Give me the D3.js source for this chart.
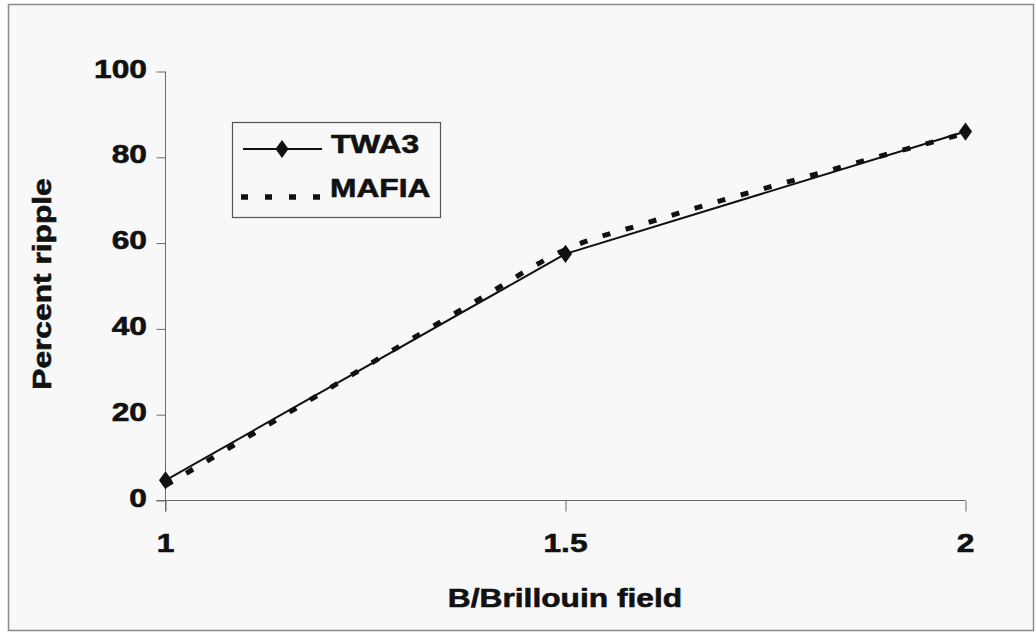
<!DOCTYPE html>
<html>
<head>
<meta charset="utf-8">
<script src="https://cdn.jsdelivr.net/npm/d3@7"></script>
<style>
  html, body { margin: 0; padding: 0; background: #ffffff; }
  svg { display: block; }
  text { font-family: "Liberation Sans", Arial, sans-serif; font-weight: bold; fill: #111; stroke: #111; stroke-width: 0.6; }
</style>
</head>
<body>
<svg id="chart" width="1036" height="633"></svg>
<script>
// ---- data ----
const twaX = [1, 1.5, 2];
const twaY = [4.7, 57.5, 86.0];
const mafiaX = [1.0, 1.1, 1.2, 1.3, 1.4, 1.5, 1.6, 1.7, 1.8, 1.9, 2.0];
const mafiaY = [3.5, 14.5, 25.6, 36.8, 47.8, 58.5, 64.6, 70.2, 75.4, 80.6, 85.6];
const xTicks = [1, 1.5, 2];
const xTickLabels = ["1", "1.5", "2"];
const yTicks = [0, 20, 40, 60, 80, 100];
const seriesNames = ["TWA3", "MAFIA"];
const xTitle = "B/Brillouin field";
const yTitle = "Percent ripple";

// ---- layout ----
const svg = d3.select("#chart");
const SX = 1.22; // horizontal glyph stretch of the original
const FS = 26;

svg.append("rect").attr("x", 8.5).attr("y", 4.5).attr("width", 1025).attr("height", 626)
  .attr("fill", "#f8f8f8").attr("stroke", "#8a8a8a").attr("stroke-width", 1.5);

const x = d3.scaleLinear().domain([1, 2]).range([165.5, 965.5]);
const y = d3.scaleLinear().domain([0, 100]).range([500.5, 71.5]);

const axisColor = "#6a6a6a";

// x axis
const gx = svg.append("g").attr("transform", `translate(0,${y(0)})`)
  .call(d3.axisBottom(x).tickValues(xTicks).tickSize(11).tickSizeOuter(0).tickFormat(""));
gx.select(".domain").attr("stroke", axisColor).attr("d", `M${x(1) - 9},0H${x(2)}`);
gx.selectAll(".tick line").attr("stroke", axisColor);

// y axis
const gy = svg.append("g").attr("transform", `translate(${x(1)},0)`)
  .call(d3.axisLeft(y).tickValues(yTicks).tickSize(9).tickSizeOuter(0).tickFormat(""));
gy.select(".domain").attr("stroke", axisColor).attr("d", `M0,${y(100)}V${y(0) + 11}`);
gy.selectAll(".tick line").attr("stroke", axisColor);

function stretchedText(g, tx, ty, str, anchor, rot) {
  return g.append("text")
    .attr("transform", `translate(${tx},${ty})${rot ? " rotate(" + rot + ")" : ""} scale(${SX},1)`)
    .attr("text-anchor", anchor)
    .attr("font-size", FS)
    .text(str);
}

// y tick labels
yTicks.forEach(v => stretchedText(svg, 147, y(v) + 6, String(v), "end"));
// x tick labels
xTicks.forEach((v, i) => stretchedText(svg, x(v), 552, xTickLabels[i], "middle"));

// titles
stretchedText(svg, 565, 607, xTitle, "middle");
stretchedText(svg, 51, 284, yTitle, "middle", -90);

// lines
const mafiaLine = d3.line().x(d => x(d[0])).y(d => y(d[1])).curve(d3.curveMonotoneX);
svg.append("path")
  .datum(mafiaX.map((v, i) => [v, mafiaY[i]]))
  .attr("d", mafiaLine)
  .attr("fill", "none").attr("stroke", "#111").attr("stroke-width", 5)
  .attr("stroke-dasharray", "8,16");

const twaLine = d3.line().x(d => x(d[0])).y(d => y(d[1]));
svg.append("path")
  .datum(twaX.map((v, i) => [v, twaY[i]]))
  .attr("d", twaLine)
  .attr("fill", "none").attr("stroke", "#111").attr("stroke-width", 2);

const diamond = d3.symbol().type(d3.symbolDiamond).size(95);
svg.selectAll(".mk").data(twaX.map((v, i) => [v, twaY[i]])).enter()
  .append("path").attr("class", "mk")
  .attr("transform", d => `translate(${x(d[0])},${y(d[1])}) scale(1.25,1)`)
  .attr("d", diamond).attr("fill", "#111");

// legend
const lg = svg.append("g");
lg.append("rect").attr("x", 232.5).attr("y", 122.5).attr("width", 208).attr("height", 95)
  .attr("fill", "none").attr("stroke", "#555").attr("stroke-width", 1.2);
lg.append("line").attr("x1", 243).attr("x2", 322).attr("y1", 149).attr("y2", 149)
  .attr("stroke", "#111").attr("stroke-width", 2);
lg.append("path").attr("transform", "translate(282,149) scale(1.25,1)").attr("d", diamond).attr("fill", "#111");
lg.append("line").attr("x1", 241).attr("x2", 322).attr("y1", 197).attr("y2", 197)
  .attr("stroke", "#111").attr("stroke-width", 5.5).attr("stroke-dasharray", "7,17");
stretchedText(lg, 331, 153, seriesNames[0], "start");
stretchedText(lg, 330, 197, seriesNames[1], "start");
</script>
</body>
</html>
